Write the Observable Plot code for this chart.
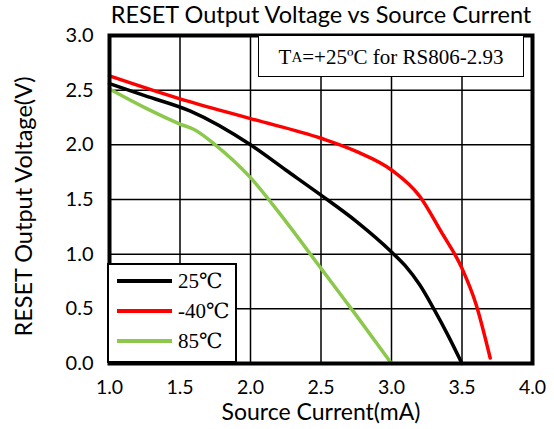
<!DOCTYPE html>
<html>
<head>
<meta charset="utf-8">
<script src="https://cdn.jsdelivr.net/npm/d3@7"></script>
<script src="https://cdn.jsdelivr.net/npm/@observablehq/plot@0.6"></script>
<style>
  body { margin: 0; background: #fff; }
  #wrap { position: relative; width: 554px; height: 429px; }
  .ann { position: absolute; background: #fff; border: 1.5px solid #000; box-sizing: border-box;
         font-family: "Liberation Serif", "DejaVu Serif", serif; color: #000; }
  #note { left: 258px; top: 35px; width: 266px; height: 42px; font-size: 21px;
          display: flex; align-items: center; justify-content: center; padding-top: 2px; }
  #note sub { font-size: 15px; vertical-align: -4px; }
  #legend { left: 107px; top: 263px; width: 130px; height: 100px; border-width: 2.5px; }
  .row { position: absolute; left: 8px; height: 24px; line-height: 24px; display: flex; align-items: center; font-size: 21px; }
  .row span.sw { display: inline-block; width: 55px; height: 4px; margin-right: 6px; }
</style>
</head>
<body>
<div id="wrap"></div>
<script>
const title = "RESET Output Voltage vs Source Current";
const xLabel = "Source Current(mA)";
const yLabel = "RESET Output Voltage(V)";
const xTicks = [1.0, 1.5, 2.0, 2.5, 3.0, 3.5, 4.0];
const yTicks = [0.0, 0.5, 1.0, 1.5, 2.0, 2.5, 3.0];
const seriesNames = ["25℃", "-40℃", "85℃"];
const seriesColors = ["#000000", "#ff0000", "#8cc84b"];
const noteText = ["T", "A", "=+25ºC for RS806-2.93"];

const x25 = [1.0, 1.25, 1.57, 2.0, 2.25, 2.5, 2.75, 3.0, 3.1, 3.2, 3.3, 3.4, 3.5];
const y25 = [2.56, 2.45, 2.31, 2.0, 1.77, 1.54, 1.30, 1.02, 0.89, 0.72, 0.50, 0.26, 0.0];
const xm40 = [1.0, 1.5, 2.0, 2.5, 2.75, 3.0, 3.2, 3.35, 3.5, 3.6, 3.7];
const ym40 = [2.63, 2.42, 2.24, 2.06, 1.94, 1.77, 1.53, 1.21, 0.87, 0.54, 0.05];
const x85 = [1.0, 1.25, 1.5, 1.6, 1.75, 2.0, 2.25, 2.5, 2.75, 3.0];
const y85 = [2.51, 2.34, 2.19, 2.14, 2.0, 1.70, 1.30, 0.87, 0.44, 0.0];

const xs = [x25, xm40, x85], ys = [y25, ym40, y85];
const data = seriesNames.flatMap((s, i) => xs[i].map((x, j) => ({series: s, x, y: ys[i][j]})));

const sans = "Lato, 'Open Sans', sans-serif";
const chart = Plot.plot({
  width: 554,
  height: 429,
  marginTop: 35,
  marginRight: 22,
  marginBottom: 66,
  marginLeft: 109,
  style: {fontFamily: sans, background: "#fff", color: "#000"},
  x: {domain: [1, 4]},
  y: {domain: [0, 3]},
  color: {domain: seriesNames, range: seriesColors},
  marks: [
    Plot.gridX(xTicks, {stroke: "#000", strokeOpacity: 1, strokeWidth: 1.5}),
    Plot.gridY(yTicks, {stroke: "#000", strokeOpacity: 1, strokeWidth: 1.5}),
    Plot.line(data, {x: "x", y: "y", z: "series", stroke: "series", strokeWidth: 3.5, curve: "monotone-x"}),
    Plot.frame({stroke: "#000", strokeWidth: 4}),
    Plot.axisX(xTicks, {tickSize: 0, tickPadding: 17, tickFormat: d3.format(".1f"), fontSize: 19.5, label: null}),
    Plot.axisY(yTicks, {tickSize: 0, tickPadding: 16, tickFormat: d3.format(".1f"), fontSize: 20, label: null}),
    Plot.text([title], {frameAnchor: "top", lineAnchor: "middle", textAnchor: "middle", dy: -20, fontSize: 23.5, text: d => d}),
    Plot.text([xLabel], {frameAnchor: "bottom", lineAnchor: "middle", textAnchor: "middle", dy: 49, fontSize: 23, text: d => d}),
    Plot.text([yLabel], {frameAnchor: "left", lineAnchor: "middle", textAnchor: "middle", dx: -85, dy: 7, rotate: -90, fontSize: 23.5, text: d => d})
  ]
});
const wrap = document.getElementById("wrap");
wrap.appendChild(chart);

const note = document.createElement("div");
note.className = "ann"; note.id = "note";
note.innerHTML = `${noteText[0]}<sub>${noteText[1]}</sub>${noteText[2]}`;
wrap.appendChild(note);

const legend = document.createElement("div");
legend.className = "ann"; legend.id = "legend";
seriesNames.forEach((s, i) => {
  const r = document.createElement("div");
  r.className = "row";
  r.style.top = (3.5 + i * 30) + "px";
  r.innerHTML = `<span class="sw" style="background:${seriesColors[i]}"></span><span>${s}</span>`;
  legend.appendChild(r);
});
wrap.appendChild(legend);
</script>
</body>
</html>
